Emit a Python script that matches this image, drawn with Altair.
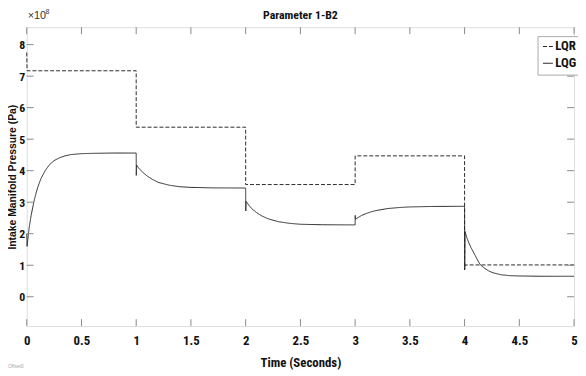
import altair as alt
import pandas as pd

# ---- data ----
lqr_t = [0.0, 0.003, 1.0, 1.0, 2.0, 2.0, 3.0, 3.0, 4.0, 4.0, 4.006, 5.0]
lqr_v = [7.75, 7.17, 7.17, 5.38, 5.38, 3.56, 3.56, 4.47, 4.47, 0.85, 1.01, 1.01]

lqg_t = [0.0, 0.003, 0.02, 0.04, 0.07, 0.1, 0.13, 0.17, 0.21, 0.25, 0.3, 0.35, 0.4, 0.5, 0.6, 0.8, 1.0,
         1.001, 1.003, 1.03, 1.06, 1.1, 1.15, 1.2, 1.3, 1.4, 1.5, 1.7, 2.0,
         2.001, 2.003, 2.03, 2.06, 2.1, 2.15, 2.2, 2.3, 2.4, 2.5, 2.7, 3.0,
         3.001, 3.003, 3.03, 3.06, 3.1, 3.15, 3.2, 3.3, 3.4, 3.5, 3.7, 4.0,
         4.001, 4.004, 4.02, 4.04, 4.06, 4.08, 4.11, 4.14, 4.18, 4.22, 4.26, 4.33, 4.41, 4.5, 4.7, 5.0]
lqg_v = [2.0, 1.6, 2.14, 2.58, 3.09, 3.47, 3.75, 4.01, 4.20, 4.32, 4.41, 4.47, 4.51, 4.54, 4.55, 4.56, 4.56,
         3.85, 4.18, 4.05, 3.95, 3.83, 3.72, 3.63, 3.54, 3.49, 3.47, 3.455, 3.45,
         2.72, 3.03, 2.90, 2.78, 2.67, 2.56, 2.48, 2.38, 2.33, 2.30, 2.285, 2.28,
         2.58, 2.46, 2.52, 2.58, 2.64, 2.70, 2.74, 2.80, 2.83, 2.85, 2.865, 2.87,
         0.88, 2.07, 1.88, 1.70, 1.55, 1.42, 1.22, 1.03, 0.91, 0.82, 0.76, 0.70, 0.67, 0.66, 0.65, 0.65]

x_ticks = [0, 0.5, 1, 1.5, 2, 2.5, 3, 3.5, 4, 4.5, 5]
y_ticks = [0, 1, 2, 3, 4, 5, 6, 7, 8]
series = ["LQR", "LQG"]

title_text = "Parameter 1-B2"
x_title = "Time (Seconds)"
y_title = "Intake Manifold Pressure (Pa)"

W, H = 555, 303
NARROW = "Liberation Sans Narrow, Roboto Condensed, Liberation Sans, Arial"

rows = []
for i, (t, v) in enumerate(zip(lqr_t, lqr_v)):
    rows.append({"series": "LQR", "t": t, "v": v, "i": i})
for i, (t, v) in enumerate(zip(lqg_t, lqg_v)):
    rows.append({"series": "LQG", "t": t, "v": v, "i": i})
df = pd.DataFrame(rows)

xs = alt.Scale(domain=[0, 5], nice=False, zero=False)
ys = alt.Scale(domain=[-0.93, 8.55], nice=False, zero=False)

x_axis = alt.Axis(values=x_ticks, title=x_title, grid=False, domain=False, ticks=False,
                  format="~g",
                  labelPadding=9, titlePadding=9, labelFont=NARROW, labelFontSize=13,
                  labelFontWeight="bold", titleFont=NARROW, titleFontSize=13,
                  titleFontWeight="bold", labelColor="#111", titleColor="#111",
                  labelOverlap=False, labelFlush=False)
y_axis = alt.Axis(values=y_ticks, title=y_title, grid=False, domain=False, ticks=False,
                  format="~g",
                  labelPadding=2, labelFont=NARROW, labelFontSize=12, labelFontWeight="bold",
                  labelOverlap=False, labelFlush=False,
                  titleFont="Liberation Sans", titleFontSize=10.5, titleFontWeight="bold",
                  titleX=-9, labelColor="#111", titleColor="#111")

lines = alt.Chart(df).mark_line(strokeWidth=1, color="#2a2a2a").encode(
    x=alt.X("t:Q", scale=xs, axis=x_axis),
    y=alt.Y("v:Q", scale=ys, axis=y_axis),
    strokeDash=alt.StrokeDash("series:N",
                              scale=alt.Scale(domain=series, range=[[4, 2], [1, 0]]),
                              legend=alt.Legend(title=None, orient="none", legendX=518, legendY=9,
                                                strokeColor="#aaaaaa", fillColor="white", padding=4,
                                                labelFont=NARROW, labelFontSize=13,
                                                labelFontWeight="bold", labelColor="#111",
                                                symbolStrokeColor="#222", symbolStrokeWidth=1,
                                                symbolSize=100, rowPadding=3, labelOffset=1)),
    order="i:Q",
)

xt = pd.DataFrame({"t": x_ticks})
yt = pd.DataFrame({"v": y_ticks})
tick_color = "#888888"
xb = alt.Chart(xt).mark_rule(color=tick_color, strokeWidth=1).encode(
    x=alt.X("t:Q", scale=xs, axis=x_axis), y=alt.value(H), y2=alt.value(H - 7))
xtop = alt.Chart(xt).mark_rule(color=tick_color, strokeWidth=1).encode(
    x=alt.X("t:Q", scale=xs, axis=x_axis), y=alt.value(0), y2=alt.value(7))
yl = alt.Chart(yt).mark_rule(color=tick_color, strokeWidth=1).encode(
    y=alt.Y("v:Q", scale=ys, axis=y_axis), x=alt.value(0), x2=alt.value(7))
yr = alt.Chart(yt).mark_rule(color=tick_color, strokeWidth=1).encode(
    y=alt.Y("v:Q", scale=ys, axis=y_axis), x=alt.value(W), x2=alt.value(W - 7))

ttl = alt.Chart(pd.DataFrame({"s": [title_text]})).mark_text(
    font=NARROW, fontSize=12, fontWeight="bold", color="#111", align="center",
    baseline="alphabetic").encode(text="s:N", x=alt.value(W / 2), y=alt.value(-8))
exp_base = alt.Chart(pd.DataFrame({"s": ["\u00d710"]})).mark_text(
    font="Liberation Sans", fontSize=11, color="#333", align="left", baseline="alphabetic").encode(
    text="s:N", x=alt.value(1), y=alt.value(-8))
exp_sup = alt.Chart(pd.DataFrame({"s": ["8"]})).mark_text(
    font="Liberation Sans", fontSize=7, color="#333", align="left", baseline="alphabetic").encode(
    text="s:N", x=alt.value(19), y=alt.value(-13))
foot = alt.Chart(pd.DataFrame({"s": ["Offset0"]})).mark_text(
    font="Liberation Sans", fontSize=5, color="#aaa", align="left", baseline="middle").encode(
    text="s:N", x=alt.value(-19), y=alt.value(H + 41))

chart = alt.layer(lines, xb, xtop, yl, yr, ttl, exp_base, exp_sup, foot).properties(
    width=W, height=H,
    autosize=alt.AutoSizeParams(type="none"),
    padding={"left": 19, "top": 17, "right": 4, "bottom": 42},
).configure_view(stroke="#888888", strokeWidth=1).configure(background="white")

chart.save("out.html", embed_options={"renderer": "svg", "actions": False})
